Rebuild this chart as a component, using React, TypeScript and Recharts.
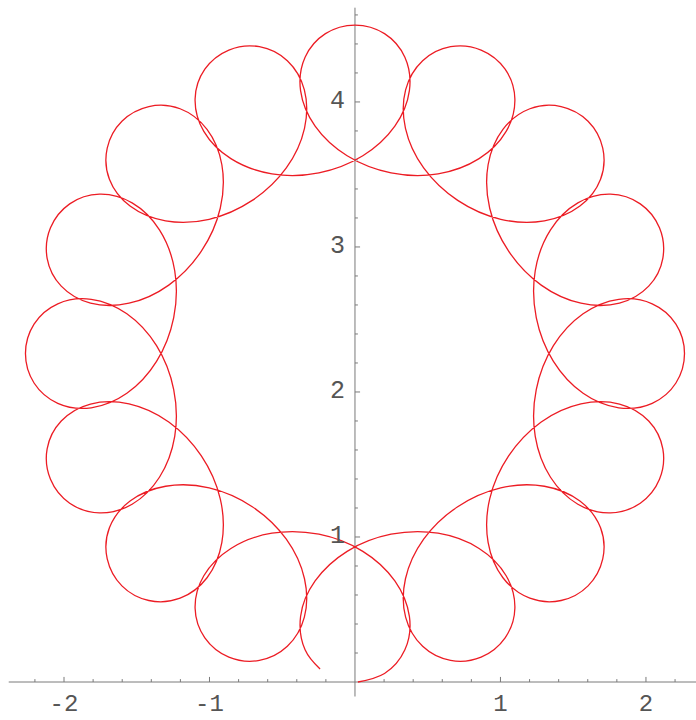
import React from "react";
import { Line, LineChart, ReferenceDot, ReferenceLine, XAxis, YAxis } from "recharts";

// Path of the drifting orbit, in the order it is traced.
// Starts at the bottom, runs clockwise around the ring and stops just short of the start.
const lowerLeft: [number, number][] = [
  [0.02, 0], [0.203, 0.059], [0.343, 0.222], [0.374, 0.452], [0.274, 0.697], [0.054, 0.901],
  [-0.248, 1.019], [-0.571, 1.026], [-0.853, 0.921], [-1.039, 0.733], [-1.099, 0.509], [-1.032, 0.305],
  [-0.867, 0.172], [-0.657, 0.149], [-0.465, 0.246], [-0.348, 0.447], [-0.347, 0.712], [-0.472, 0.985],
  [-0.706, 1.209], [-1.002, 1.339], [-1.302, 1.35], [-1.546, 1.248], [-1.688, 1.063], [-1.703, 0.849],
  [-1.602, 0.663], [-1.417, 0.562], [-1.202, 0.578], [-1.017, 0.719], [-0.915, 0.963], [-0.926, 1.263],
  [-1.056, 1.559], [-1.28, 1.793], [-1.553, 1.918], [-1.818, 1.917], [-2.019, 1.8], [-2.116, 1.608],
  [-2.093, 1.398], [-1.961, 1.233], [-1.756, 1.166], [-1.532, 1.226], [-1.344, 1.412], [-1.239, 1.694],
];

const upperLeft: [number, number][] = [
  [-1.246, 2.017], [-1.364, 2.319], [-1.568, 2.539], [-1.813, 2.639], [-2.043, 2.608], [-2.206, 2.468],
  [-2.265, 2.265], [-2.206, 2.062], [-2.043, 1.922], [-1.813, 1.891], [-1.568, 1.991], [-1.364, 2.211],
  [-1.246, 2.513], [-1.239, 2.836], [-1.344, 3.118], [-1.532, 3.304], [-1.756, 3.364], [-1.961, 3.297],
  [-2.093, 3.132], [-2.116, 2.922], [-2.019, 2.73], [-1.818, 2.613], [-1.553, 2.612], [-1.28, 2.737],
  [-1.056, 2.971], [-0.926, 3.267], [-0.915, 3.567], [-1.017, 3.811], [-1.202, 3.953], [-1.417, 3.968],
  [-1.602, 3.867], [-1.703, 3.682], [-1.688, 3.467], [-1.546, 3.282], [-1.302, 3.18], [-1.002, 3.191],
  [-0.706, 3.321], [-0.472, 3.545], [-0.347, 3.818], [-0.348, 4.083], [-0.465, 4.284], [-0.657, 4.381],
  [-0.867, 4.358], [-1.032, 4.226], [-1.099, 4.021], [-1.039, 3.797], [-0.853, 3.609], [-0.571, 3.504],
];

const upperRight: [number, number][] = [
  [-0.248, 3.511], [0.054, 3.629], [0.274, 3.833], [0.374, 4.078], [0.343, 4.308], [0.203, 4.471],
  [0, 4.53], [-0.203, 4.471], [-0.343, 4.308], [-0.374, 4.078], [-0.274, 3.833], [-0.054, 3.629],
  [0.248, 3.511], [0.571, 3.504], [0.853, 3.609], [1.039, 3.797], [1.099, 4.021], [1.032, 4.226],
  [0.867, 4.358], [0.657, 4.381], [0.465, 4.284], [0.348, 4.083], [0.347, 3.818], [0.472, 3.545],
  [0.706, 3.321], [1.002, 3.191], [1.302, 3.18], [1.546, 3.282], [1.688, 3.467], [1.703, 3.682],
  [1.602, 3.867], [1.417, 3.968], [1.202, 3.953], [1.017, 3.811], [0.915, 3.567], [0.926, 3.267],
  [1.056, 2.971], [1.28, 2.737], [1.553, 2.612], [1.818, 2.613], [2.019, 2.73], [2.116, 2.922],
  [2.093, 3.132], [1.961, 3.297], [1.756, 3.364], [1.532, 3.304], [1.344, 3.118], [1.239, 2.836],
];

const lowerRight: [number, number][] = [
  [1.246, 2.513], [1.364, 2.211], [1.568, 1.991], [1.813, 1.891], [2.043, 1.922], [2.206, 2.062],
  [2.265, 2.265], [2.206, 2.468], [2.043, 2.608], [1.813, 2.639], [1.568, 2.539], [1.364, 2.319],
  [1.246, 2.017], [1.239, 1.694], [1.344, 1.412], [1.532, 1.226], [1.756, 1.166], [1.961, 1.233],
  [2.093, 1.398], [2.116, 1.608], [2.019, 1.8], [1.818, 1.917], [1.553, 1.918], [1.28, 1.793],
  [1.056, 1.559], [0.926, 1.263], [0.915, 0.963], [1.017, 0.719], [1.202, 0.578], [1.417, 0.562],
  [1.602, 0.663], [1.703, 0.849], [1.688, 1.063], [1.546, 1.248], [1.302, 1.35], [1.002, 1.339],
  [0.706, 1.209], [0.472, 0.985], [0.347, 0.712], [0.348, 0.447], [0.465, 0.246], [0.657, 0.149],
  [0.867, 0.172], [1.032, 0.305], [1.099, 0.509], [1.039, 0.733], [0.853, 0.921], [0.571, 1.026],
  [0.248, 1.019], [-0.054, 0.901], [-0.274, 0.697], [-0.374, 0.452], [-0.343, 0.222], [-0.24, 0.09],
];

const xTicks = [-2, -1, 1, 2];
const yTicks = [1, 2, 3, 4];

const track = [...lowerLeft, ...upperLeft, ...upperRight, ...lowerRight].map(([x, y]) => ({ x, y }));

// small unlabeled ticks every 0.2
const minorTicks = (from: number, to: number) => {
  const out: number[] = [];
  for (let i = Math.round(from * 5); i <= Math.round(to * 5); i++) {
    if (i % 5 !== 0) out.push(i / 5);
  }
  return out;
};

const AXIS = "#7a7a7a";
const FONT = "'Liberation Mono', 'DejaVu Sans Mono', monospace";

const XLabel = (props: any) => {
  const { viewBox, value } = props;
  return (
    <text x={viewBox.x} y={viewBox.y + 22} textAnchor="middle" dominantBaseline="central"
      fontFamily={FONT} fontSize={24} fill="#555">
      {value}
    </text>
  );
};

const YLabel = (props: any) => {
  const { viewBox, value } = props;
  return (
    <text x={viewBox.x - 10} y={viewBox.y} textAnchor="end" dominantBaseline="central"
      fontFamily={FONT} fontSize={25} fill="#555">
      {value}
    </text>
  );
};

const OrbitPlot = () => {
  return (
    <div style={{ position: "absolute", left: 0, top: 0, width: 696, height: 720, background: "#fff" }}>
      <LineChart width={696} height={720} data={track} margin={{ top: 0, right: 0, bottom: 0, left: 0 }}>
        <XAxis type="number" dataKey="x" domain={[-2.44, 2.344]} allowDataOverflow hide />
        <YAxis type="number" dataKey="y" domain={[-0.262, 4.703]} allowDataOverflow hide />

        <ReferenceLine segment={[{ x: -2.38, y: 0 }, { x: 2.344, y: 0 }]} stroke={AXIS} strokeWidth={1} />
        <ReferenceLine segment={[{ x: 0, y: -0.1 }, { x: 0, y: 4.65 }]} stroke={AXIS} strokeWidth={1} />

        {minorTicks(-2.2, 2.2).map((t) => (
          <ReferenceLine key={`mx${t}`} segment={[{ x: t, y: 0 }, { x: t, y: 0.02 }]} stroke={AXIS} />
        ))}
        {minorTicks(0.2, 4.6).map((t) => (
          <ReferenceLine key={`my${t}`} segment={[{ x: 0, y: t }, { x: 0.02, y: t }]} stroke={AXIS} />
        ))}
        {xTicks.map((t) => (
          <ReferenceLine key={`x${t}`} segment={[{ x: t, y: 0 }, { x: t, y: 0.035 }]} stroke={AXIS} />
        ))}
        {yTicks.map((t) => (
          <ReferenceLine key={`y${t}`} segment={[{ x: 0, y: t }, { x: 0.035, y: t }]} stroke={AXIS} />
        ))}
        {xTicks.map((t) => (
          <ReferenceDot key={`xl${t}`} x={t} y={0} r={0} fill="none" stroke="none"
            label={{ value: String(t), content: XLabel }} />
        ))}
        {yTicks.map((t) => (
          <ReferenceDot key={`yl${t}`} x={0} y={t} r={0} fill="none" stroke="none"
            label={{ value: String(t), content: YLabel }} />
        ))}

        <Line
          type="natural"
          dataKey="y"
          stroke="#ec1c24"
          strokeWidth={1.3}
          dot={false}
          activeDot={false}
          isAnimationActive={false}
        />
      </LineChart>
    </div>
  );
};

export default OrbitPlot;
